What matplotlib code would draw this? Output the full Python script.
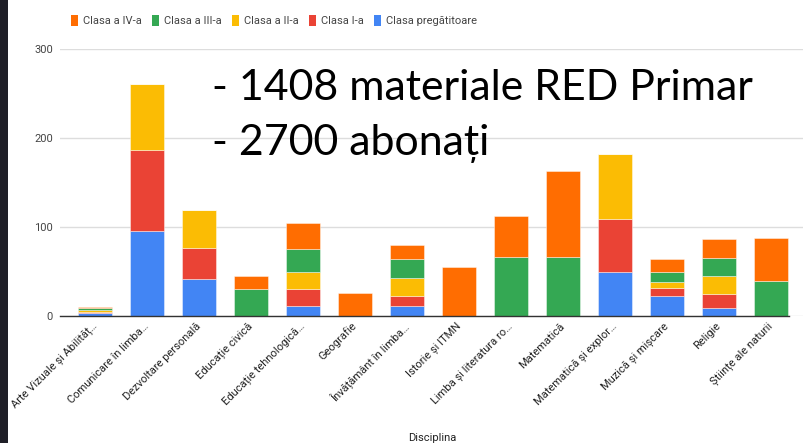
import matplotlib
matplotlib.use("Agg")
import matplotlib.pyplot as plt
import matplotlib.patches as mpatches
import numpy as np

W, H = 804, 443

categories = [
    "Arte Vizuale și Abilităț…", "Comunicare în limba…", "Dezvoltare personală",
    "Educație civică", "Educație tehnologică…", "Geografie", "Învățământ în limba…",
    "Istorie și ITMN", "Limba și literatura ro…", "Matematică", "Matematică și explor…",
    "Muzică și mișcare", "Religie", "Științe ale naturii",
]
pregatitoare = [3, 96, 42, 0, 11, 0, 11, 0, 0, 0, 50, 23, 9, 0]
clasa_1 = [1, 90, 34, 0, 19, 0, 12, 0, 0, 0, 59, 8, 16, 0]
clasa_2 = [3, 75, 43, 0, 19, 0, 20, 0, 0, 0, 73, 7, 20, 0]
clasa_3 = [2, 0, 0, 30, 26, 0, 21, 0, 66, 66, 0, 11, 20, 39]
clasa_4 = [1, 0, 0, 15, 29, 26, 16, 55, 46, 97, 0, 15, 21, 49]

series = [
    ("Clasa pregătitoare", pregatitoare, "#4285F4"),
    ("Clasa I-a", clasa_1, "#EA4335"),
    ("Clasa a II-a", clasa_2, "#FBBC04"),
    ("Clasa a III-a", clasa_3, "#34A853"),
    ("Clasa a IV-a", clasa_4, "#FF6D01"),
]
y_ticks = [0, 100, 200, 300]

plt.rcParams["font.family"] = ["Roboto", "DejaVu Sans"]

fig = plt.figure(figsize=(W / 100, H / 100), dpi=100)
fig.patch.set_facecolor("white")

# pixel helpers
def fx(px):
    return px / W

def fy(py):
    return 1 - py / H

# dark strip on the left edge (screenshot border)
fig.patches.append(mpatches.Rectangle((0, 0), fx(8), 1, transform=fig.transFigure,
                                      facecolor="#1f1f27", edgecolor="none", zorder=0))

ax_left, ax_right, ax_top, ax_bottom = 60, 804, 49, 316
ax = fig.add_axes([fx(ax_left), fy(ax_bottom), fx(ax_right - ax_left), (ax_bottom - ax_top) / H])

x = np.arange(len(categories))
bottom = np.zeros(len(categories))
for name, vals, col in series:
    vals = np.array(vals, dtype=float)
    ax.bar(x, vals, 0.654, bottom=bottom, color=col, edgecolor=(1, 1, 1, 0.5),
           linewidth=0.6, zorder=3, label=name)
    bottom += vals

# first bar center at 95px, spacing 52px
x0, dx = 95, 52
ax.set_xlim((ax_left - x0) / dx, (ax_right - x0) / dx)
ax.set_ylim(0, 300)
ax.set_yticks(y_ticks)
ax.set_yticklabels([str(v) for v in y_ticks], fontsize=8, color="#444444")
ax.set_xticks(x)
ax.set_xticklabels(categories, rotation=45, ha="right", va="center",
                   rotation_mode="anchor", fontsize=8, color="#222222")
ax.tick_params(axis="y", length=0, pad=5)
ax.tick_params(axis="x", length=0, pad=6)
ax.grid(axis="y", color="#dddddd", linewidth=1, zorder=0)
for s in ["top", "right", "left"]:
    ax.spines[s].set_visible(False)
ax.spines["bottom"].set_color("#333333")
ax.spines["bottom"].set_linewidth(1)
ax.spines["bottom"].set_zorder(4)
ax.spines["bottom"].set_bounds((ax_left - x0) / dx, (789 - x0) / dx)
ax.set_facecolor("none")

# legend (reverse order, top)
handles = [mpatches.Patch(facecolor=c, edgecolor="none", label=n) for n, _, c in series[::-1]]
fig.legend(handles=handles, loc="center", bbox_to_anchor=(fx(274), fy(20.5)), ncol=5,
           frameon=False, fontsize=8, handlelength=0.6, handleheight=1.1,
           handletextpad=0.45, columnspacing=0.95, labelcolor="#444444")

fig.text(fx(432), fy(438), "Disciplina", ha="center", va="center", fontsize=8, color="#222222")

# overlay annotation text, size fitted to the width of the first line
line1 = "- 1408 materiale RED Primar"
line2 = "- 2700 abonați"
t1 = fig.text(fx(212), fy(100), line1, fontsize=32, family=["Lato", "DejaVu Sans"],
              color="black", va="baseline", ha="left")
fig.canvas.draw()
w = t1.get_window_extent().width
fs = 32 * 543 / w
t1.set_fontsize(fs)
fig.text(fx(212), fy(155), line2, fontsize=fs, family=["Lato", "DejaVu Sans"],
         color="black", va="baseline", ha="left")

fig.savefig("out.png", dpi=100)
